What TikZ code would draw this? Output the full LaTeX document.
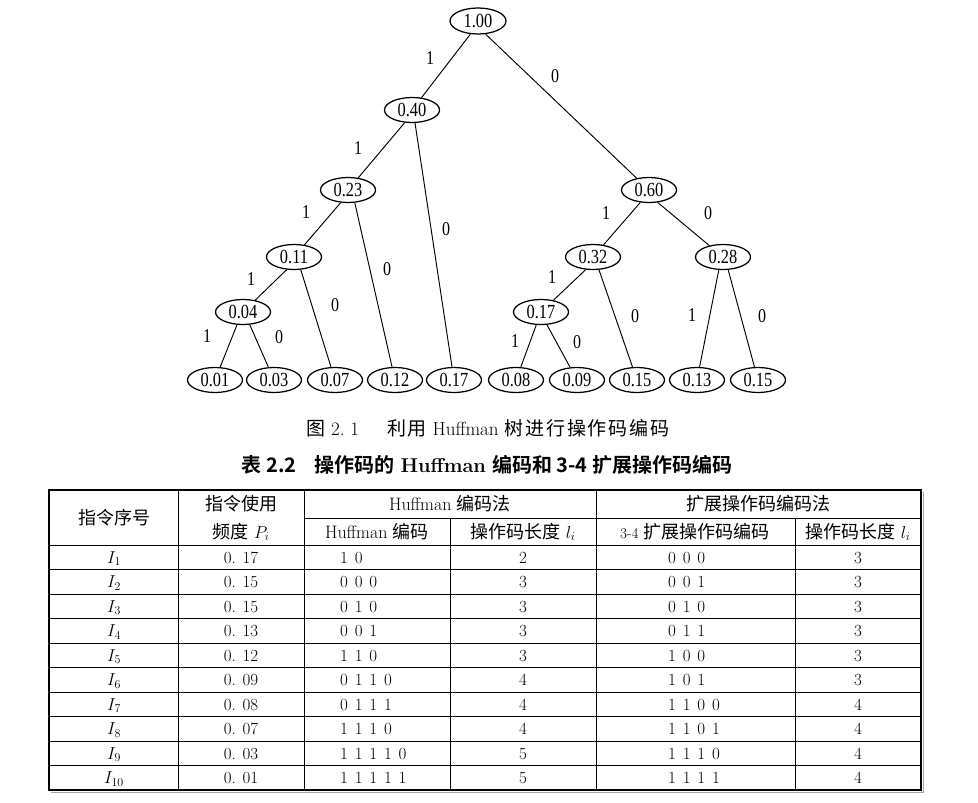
\documentclass[tikz,border=0pt]{standalone}
\usepackage{fontspec}
\newfontfamily\tfont{Liberation Serif}[FakeStretch=0.82]
\newfontfamily\cjk{Noto Sans CJK SC}
\newfontfamily\cjkc{Noto Sans CJK SC}[LetterSpace=10]
\newfontfamily\cjkb{Noto Sans CJK SC Bold}
\newcommand\widesp{\fontsize{17}{17}\selectfont\spaceskip=6.8pt\relax}
\usetikzlibrary{shapes.geometric}
\tikzset{
  tnode/.style={ellipse, draw, line width=1.25pt, minimum width=55pt, minimum height=25pt, inner sep=0pt, font=\tfont\fontsize{20}{20}\selectfont},
  tedge/.style={line width=0.95pt},
  elab/.style={inner sep=0pt, font=\tfont\fontsize{19.5}{19.5}\selectfont},
  cell/.style={inner sep=0pt, font=\widesp},
  hcell/.style={inner sep=0pt, font=\fontsize{18}{18}\selectfont},
  thin/.style={line width=0.9pt},
}
\begin{document}
\begin{tikzpicture}[x=1pt,y=-1pt]
\useasboundingbox (0,0) rectangle (978,803);
\fill[white] (0,0) rectangle (978,803);
% ---------- tree ----------
\node[tnode, minimum width=56pt, minimum height=26pt] (r) at (478,21) {1.00};
\node[tnode] (a) at (412,110) {0.40};
\node[tnode] (b) at (348,190) {0.23};
\node[tnode] (c) at (649,190) {0.60};
\node[tnode] (d) at (294,257) {0.11};
\node[tnode] (e) at (593,257) {0.32};
\node[tnode] (f) at (723,257) {0.28};
\node[tnode] (g) at (243,312) {0.04};
\node[tnode] (h) at (541,312) {0.17};
\node[tnode] (l1) at (215,380) {0.01};
\node[tnode] (l2) at (274,380) {0.03};
\node[tnode] (l3) at (335,380) {0.07};
\node[tnode] (l4) at (395,380) {0.12};
\node[tnode] (l5) at (454,380) {0.17};
\node[tnode] (l6) at (516,380) {0.08};
\node[tnode] (l7) at (577,380) {0.09};
\node[tnode] (l8) at (637,380) {0.15};
\node[tnode] (l9) at (697,380) {0.13};
\node[tnode] (l10) at (758,380) {0.15};
\draw[tedge] (r.240) -- (a);
\draw[tedge] (r.300) -- (c);
\draw[tedge] (a.240) -- (b);
\draw[tedge] (a.283) -- (l5);
\draw[tedge] (b.240) -- (d);
\draw[tedge] (b.298) -- (l4);
\draw[tedge] (d.240) -- (g);
\draw[tedge] (d.298) -- (l3);
\draw[tedge] (g.245) -- (l1);
\draw[tedge] (g.298) -- (l2);
\draw[tedge] (c.235) -- (e);
\draw[tedge] (c.305) -- (f);
\draw[tedge] (e.240) -- (h);
\draw[tedge] (e.295) -- (l8);
\draw[tedge] (f.252) -- (l9);
\draw[tedge] (f.292) -- (l10);
\draw[tedge] (h.250) -- (l6);
\draw[tedge] (h.295) -- (l7);
% edge labels
\node[elab] (ra) at (430,58) {1};
\node[elab] (rc) at (555,76) {0};
\node[elab] (ab) at (358,148) {1};
\node[elab] (al) at (446,229) {0};
\node[elab] (bd) at (306,212) {1};
\node[elab] (bl) at (387,269) {0};
\node[elab] (dg) at (251,279) {1};
\node[elab] (dl) at (335,305) {0};
\node[elab] (gl1) at (207,336) {1};
\node[elab] (gl2) at (279,337) {0};
\node[elab] (ce) at (606,213) {1};
\node[elab] (cf) at (708,213) {0};
\node[elab] (eh) at (552,277) {1};
\node[elab] (el) at (635,316) {0};
\node[elab] (fl1) at (692,315) {1};
\node[elab] (fl2) at (762,316) {0};
\node[elab] (hl1) at (515,341) {1};
\node[elab] (hl2) at (577,342) {0};
% ---------- captions ----------
\node[inner sep=0pt, font=\fontsize{19}{19}\selectfont] (cap) at (488,428)
  {{\cjkc 图} 2.\ 1\hspace{28pt}{\cjkc 利用} Huffman {\cjkc 树进行操作码编码}};
\node[inner sep=0pt, font=\fontsize{20}{20}\selectfont] (ttl) at (487,465)
  {{\cjkb 表 2.2\hspace{18pt}操作码的} \textbf{Huffman} {\cjkb 编码和 3-4 扩展操作码编码}};
% ---------- table ----------
\draw[thin] (304,518) -- (921,518);
\foreach \k in {0,...,9} {
  \draw[thin] (49,{545+24.5*\k}) -- (921,{545+24.5*\k});
}
\draw[thin] (178,490) -- (178,790);
\draw[thin] (304,490) -- (304,790);
\draw[thin] (450,518) -- (450,790);
\draw[thin] (596,490) -- (596,790);
\draw[thin] (795,518) -- (795,790);
\draw[gray!70, line width=1.5pt] (923.5,492) -- (923.5,792.5) -- (51,792.5);
\draw[line width=1.8pt] (49,490) rectangle (921,790);
% header
\node[hcell] (h1) at (114,518) {\cjk 指令序号};
\node[hcell] (h2a) at (241,504) {\cjk 指令使用};
\node[hcell] (h2b) at (241,532) {{\cjk 频度} $P_i$};
\node[hcell] (h3) at (450,504) {Huffman {\cjk 编码法}};
\node[hcell] (h4) at (758,504) {\cjk 扩展操作码编码法};
\node[hcell] (h3a) at (377,532) {Huffman {\cjk 编码}};
\node[hcell] (h3b) at (523,532) {{\cjk 操作码长度} $l_i$};
\node[hcell] (h4a) at (695,532) {{\fontsize{15}{15}\selectfont 3-4} {\cjk 扩展操作码编码}};
\node[hcell] (h4b) at (858,532) {{\cjk 操作码长度} $l_i$};
% rows
\foreach \n/\p/\hc/\hl/\ec/\el [count=\k] in {
  1/0.\ 17/1 0/2/0 0 0/3,
  2/0.\ 15/0 0 0/3/0 0 1/3,
  3/0.\ 15/0 1 0/3/0 1 0/3,
  4/0.\ 13/0 0 1/3/0 1 1/3,
  5/0.\ 12/1 1 0/3/1 0 0/3,
  6/0.\ 09/0 1 1 0/4/1 0 1/3,
  7/0.\ 08/0 1 1 1/4/1 1 0 0/4,
  8/0.\ 07/1 1 1 0/4/1 1 0 1/4,
  9/0.\ 03/1 1 1 1 0/5/1 1 1 0/4,
  10/0.\ 01/1 1 1 1 1/5/1 1 1 1/4} {
  \pgfmathsetmacro\yb{532.75+24.5*\k+6}
  \node[cell, anchor=base] (n\k) at (114,\yb) {$I_{\n}$};
  \node[cell, anchor=base] (p\k) at (241,\yb) {\p};
  \node[cell, anchor=base west] (hc\k) at (340,\yb) {\hc};
  \node[cell, anchor=base] (hl\k) at (523,\yb) {\hl};
  \node[cell, anchor=base west] (ec\k) at (668,\yb) {\ec};
  \node[cell, anchor=base] (el\k) at (858,\yb) {\el};
}
\end{tikzpicture}
\end{document}
